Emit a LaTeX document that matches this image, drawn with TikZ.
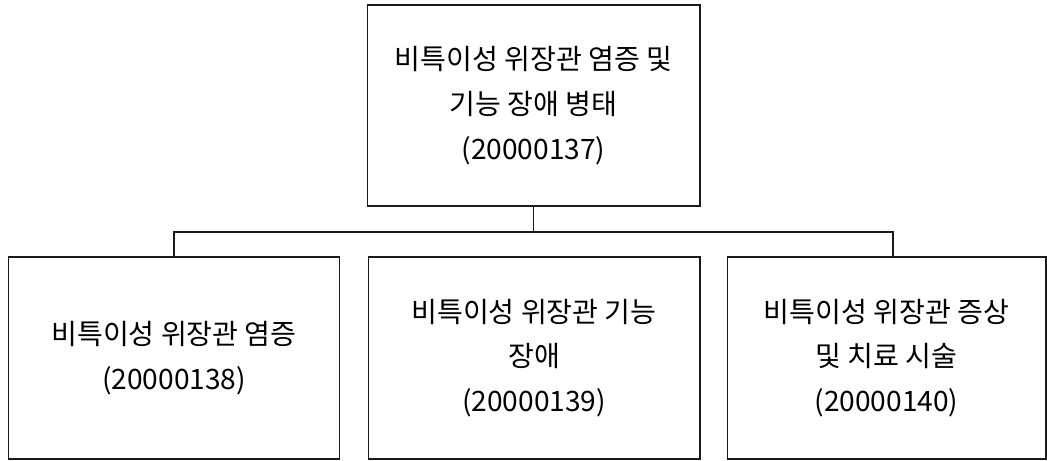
\documentclass[tikz,border=0pt]{standalone}
\usepackage{fontspec}
\setmainfont{Noto Sans CJK KR}
\usepackage{tikz}
\usetikzlibrary{calc}
\definecolor{edge}{HTML}{1A1A1A}
\tikzset{
  codebox/.style={draw=edge, line width=0.6pt, fill=white, align=center,
    font=\fontsize{16}{25.5}\selectfont, inner sep=0pt},
  link/.style={draw=edge, line width=0.6pt},
}

\begin{document}
\begin{tikzpicture}[x=0.02cm, y=-0.02cm]
\useasboundingbox (0,0) rectangle (1047,460);
% top box
\node[codebox, minimum width=6.66cm, minimum height=4.02cm] (root) at (533.5,105.5)
  {비특이성 위장관 염증 및\\기능 장애 병태\\(20000137)};

% child boxes
\node[codebox, minimum width=6.64cm, minimum height=4.04cm] (c1) at (174,358)
  {비특이성 위장관 염증\\(20000138)};
\node[codebox, minimum width=6.64cm, minimum height=4.04cm] (c2) at (534,358)
  {비특이성 위장관 기능\\장애\\(20000139)};
\node[codebox, minimum width=6.38cm, minimum height=4.04cm] (c3) at (886.5,358)
  {비특이성 위장관 증상\\및 치료 시술\\(20000140)};

% connectors
\coordinate (bus) at (533.5,232);
\draw[link] (root.south) -- (bus);
\draw[link] (bus) -| (c1.north);
\draw[link] (bus) -- (c2.north |- bus);
\draw[link] (bus) -| ([xshift=0.13cm]c3.north);
\end{tikzpicture}
\end{document}
